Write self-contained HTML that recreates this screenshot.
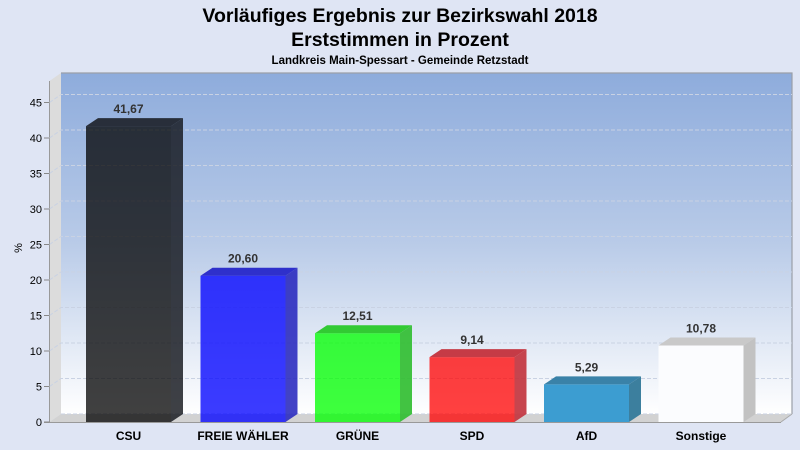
<!DOCTYPE html>
<html><head><meta charset="utf-8"><style>
html,body{margin:0;padding:0;background:#dfe5f4;}
svg{display:block;font-family:"Liberation Sans",Arial,sans-serif;}
</style></head><body>
<svg width="800" height="450" viewBox="0 0 800 450" xmlns="http://www.w3.org/2000/svg">
<defs>
<linearGradient id="wall" x1="0" y1="0" x2="0" y2="1">
<stop offset="0" stop-color="#8eacdc"/>
<stop offset="0.5" stop-color="#b9cbe8"/>
<stop offset="1" stop-color="#ffffff"/>
</linearGradient>
</defs>
<rect width="800" height="450" fill="#dfe5f4"/>
<text x="400" y="22" text-anchor="middle" font-size="19.5" font-weight="bold" fill="#000">Vorläufiges Ergebnis zur Bezirkswahl 2018</text>
<text x="400" y="46" text-anchor="middle" font-size="19.5" font-weight="bold" fill="#000">Erststimmen in Prozent</text>
<text x="400" y="64" text-anchor="middle" font-size="11.5" font-weight="bold" fill="#000">Landkreis Main-Spessart - Gemeinde Retzstadt</text>

<!-- back wall -->
<rect x="61" y="73" width="731" height="341" fill="url(#wall)"/>
<polyline points="61,73 792,73 792,414" fill="none" stroke="#9a9fa8" stroke-width="1.2"/>
<!-- side wall -->
<polygon points="49.5,81 61,73 61,414 49.5,422" fill="#dcdcdc"/>
<!-- floor -->
<polygon points="49.5,422 61,414 792,414 781,422" fill="#d2d2d2"/>
<line x1="49.5" y1="81" x2="49.5" y2="422" stroke="#999" stroke-width="1"/>
<line x1="44" y1="422.5" x2="781" y2="422.5" stroke="#999" stroke-width="1"/>
<line x1="781" y1="422" x2="792" y2="414" stroke="#aaa" stroke-width="1"/>

<!-- gridlines -->
<g stroke="#c9d2e3" stroke-width="1" stroke-dasharray="4,2" fill="none">
<polyline points="49.5,386.5 61,378.5 792,378.5"/>
<polyline points="49.5,351 61,343 792,343"/>
<polyline points="49.5,315.5 61,307.5 792,307.5"/>
<polyline points="49.5,280 61,272 792,272"/>
<polyline points="49.5,244.5 61,236.5 792,236.5"/>
<polyline points="49.5,209 61,201 792,201"/>
<polyline points="49.5,173.5 61,165.5 792,165.5"/>
<polyline points="49.5,138 61,130 792,130"/>
<polyline points="49.5,102.5 61,94.5 792,94.5"/>
<line x1="61" y1="414" x2="792" y2="414"/>
</g>

<!-- ticks -->
<g stroke="#888" stroke-width="1">
<line x1="44" y1="422" x2="49.5" y2="422"/>
<line x1="44" y1="386.5" x2="49.5" y2="386.5"/>
<line x1="44" y1="351" x2="49.5" y2="351"/>
<line x1="44" y1="315.5" x2="49.5" y2="315.5"/>
<line x1="44" y1="280" x2="49.5" y2="280"/>
<line x1="44" y1="244.5" x2="49.5" y2="244.5"/>
<line x1="44" y1="209" x2="49.5" y2="209"/>
<line x1="44" y1="173.5" x2="49.5" y2="173.5"/>
<line x1="44" y1="138" x2="49.5" y2="138"/>
<line x1="44" y1="102.5" x2="49.5" y2="102.5"/>
</g>
<g font-size="11" fill="#000" text-anchor="end">
<text x="42" y="426">0</text>
<text x="42" y="390.5">5</text>
<text x="42" y="355">10</text>
<text x="42" y="319.5">15</text>
<text x="42" y="284">20</text>
<text x="42" y="248.5">25</text>
<text x="42" y="213">30</text>
<text x="42" y="177.5">35</text>
<text x="42" y="142">40</text>
<text x="42" y="106.5">45</text>
</g>
<text x="22" y="248" font-size="11" fill="#000" text-anchor="middle" transform="rotate(-90 22 248)">%</text>

<!-- bars -->
<!-- CSU 41.67 top=126.1 -->
<g>
<rect x="86" y="126.1" width="85" height="295.9" fill="rgba(0,0,0,0.75)"/>
<polygon points="86,126.1 98,118.1 183,118.1 171,126.1" fill="rgba(20,22,28,0.85)"/>
<polygon points="171,126.1 183,118.1 183,414 171,422" fill="rgba(20,22,28,0.82)"/>
</g>
<!-- FREIE WÄHLER 20.60 top=275.7 -->
<g>
<rect x="200.5" y="275.7" width="85" height="146.3" fill="rgba(0,0,255,0.77)"/>
<polygon points="200.5,275.7 212.5,267.7 297.5,267.7 285.5,275.7" fill="rgba(30,30,200,0.9)"/>
<polygon points="285.5,275.7 297.5,267.7 297.5,414 285.5,422" fill="rgba(40,40,190,0.88)"/>
</g>
<!-- GRÜNE 12.51 top=333.2 -->
<g>
<rect x="315" y="333.2" width="85" height="88.8" fill="rgba(0,255,0,0.76)"/>
<polygon points="315,333.2 327,325.2 412,325.2 400,333.2" fill="rgba(40,200,40,0.95)"/>
<polygon points="400,333.2 412,325.2 412,414 400,422" fill="rgba(50,190,50,0.92)"/>
</g>
<!-- SPD 9.14 top=357.1 -->
<g>
<rect x="429.5" y="357.1" width="85" height="64.9" fill="rgba(255,0,0,0.75)"/>
<polygon points="429.5,357.1 441.5,349.1 526.5,349.1 514.5,357.1" fill="rgba(195,50,60,0.95)"/>
<polygon points="514.5,357.1 526.5,349.1 526.5,414 514.5,422" fill="rgba(195,55,65,0.93)"/>
</g>
<!-- AfD 5.29 top=384.4 -->
<g>
<rect x="544" y="384.4" width="85" height="37.6" fill="#3c9dd1"/>
<polygon points="544,384.4 556,376.4 641,376.4 629,384.4" fill="#3a82a8"/>
<polygon points="629,384.4 641,376.4 641,414 629,422" fill="#3c7f9e"/>
</g>
<!-- Sonstige 10.78 top=345.5 -->
<g>
<rect x="658.5" y="345.5" width="85" height="76.5" fill="#fbfcfe"/>
<polygon points="658.5,345.5 670.5,337.5 755.5,337.5 743.5,345.5" fill="#c9c9c9"/>
<polygon points="743.5,345.5 755.5,337.5 755.5,414 743.5,422" fill="#c2c2c2"/>
</g>

<!-- value labels -->
<g font-size="12" font-weight="bold" fill="#333" text-anchor="middle">
<text x="128.5" y="113">41,67</text>
<text x="243" y="262.5">20,60</text>
<text x="357.5" y="320">12,51</text>
<text x="472" y="344">9,14</text>
<text x="586.5" y="371.5">5,29</text>
<text x="701" y="332.5">10,78</text>
</g>

<!-- category labels -->
<g font-size="12" font-weight="bold" fill="#000" text-anchor="middle">
<text x="128.5" y="440">CSU</text>
<text x="243" y="440">FREIE WÄHLER</text>
<text x="357.5" y="440">GRÜNE</text>
<text x="472" y="440">SPD</text>
<text x="586.5" y="440">AfD</text>
<text x="701" y="440">Sonstige</text>
</g>
</svg>
</body></html>
